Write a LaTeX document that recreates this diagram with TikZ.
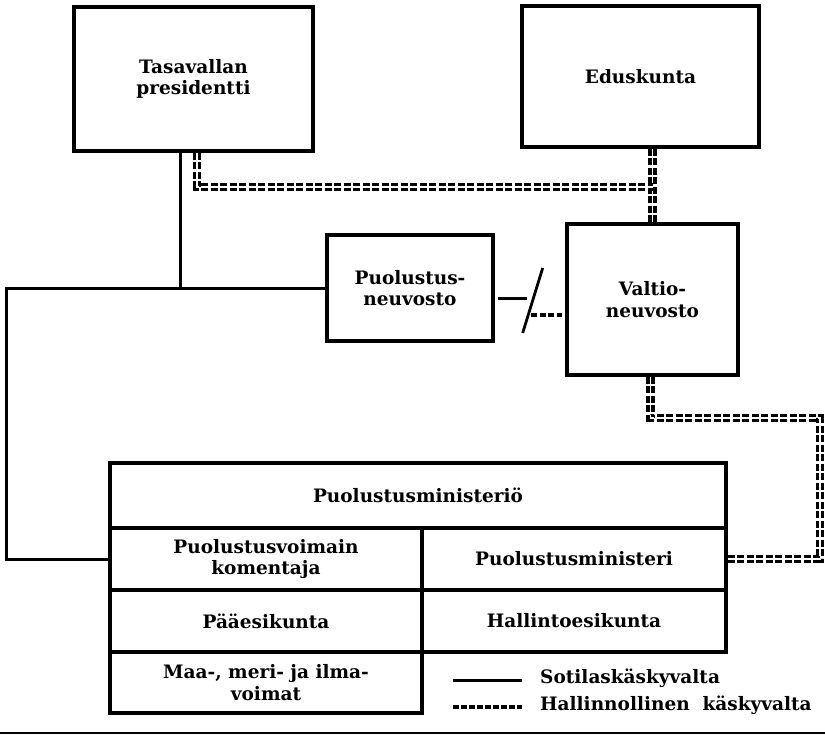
\documentclass[tikz,border=0pt]{standalone}
\usepackage{fontspec}
\setmainfont{DejaVu Serif}
\usetikzlibrary{calc}
\begin{document}
\begin{tikzpicture}[x=1pt,y=-1pt,
  lbl/.style={font=\fontsize{18.5}{21.5}\selectfont\bfseries, align=center},
  box/.style={lbl, draw, line width=3.4pt, inner sep=0pt},
  cell/.style={box, line width=3.2pt},
  mil/.style={line width=3pt},
  adm/.style={double, double distance=1.8pt, line width=3.3pt, dash pattern=on 7pt off 2.5pt},
  admkey/.style={line width=4.2pt, dash pattern=on 5.5pt off 2.5pt},
]
\useasboundingbox (0,0) rectangle (825,736);

% top-level bodies
\node[box, minimum width=239pt, minimum height=144pt] (pres) at (193.5,79) {Tasavallan\\presidentti};
\node[box, minimum width=237pt, minimum height=141pt] (edus) at (640.5,76.5) {Eduskunta};
\node[box, minimum width=166pt, minimum height=106pt] (pn) at (410,288) {Puolustus-\\neuvosto};
\node[box, minimum width=171pt, minimum height=151pt] (vn) at (652.5,299.5) {Valtio-\\neuvosto};

% ministry table
\node[cell, minimum width=616pt, minimum height=65pt] (min) at (418,495.5) {Puolustusministeriö};
\node[cell, minimum width=312pt, minimum height=62pt] (kom) at (266,559) {Puolustusvoimain\\komentaja};
\node[cell, minimum width=304pt, minimum height=62pt] (pmin) at (574,559) {Puolustusministeri};
\node[cell, minimum width=312pt, minimum height=62pt] (pe) at (266,621) {Pääesikunta};
\node[cell, minimum width=304pt, minimum height=62pt] (he) at (574,621) {Hallintoesikunta};
\node[cell, minimum width=312pt, minimum height=61pt] (mmi) at (266,682.5) {Maa-, meri- ja ilma-\\voimat};

% military command
\coordinate (ptap) at ($(pres.south)+(-13.5,0)$);
\coordinate (rail) at (6,0);
\draw[mil] (ptap) -- (ptap |- pn.west);
\draw[mil] (pn.west) -- (rail |- pn.west) -- (rail |- kom.west) -- (kom.west);

% administrative command
\coordinate (pdd) at ($(pres.south)+(3.5,0)$);
\coordinate (tee) at ($(edus.south -| vn.north)+(0,38)$);
\draw[adm] (edus.south -| vn.north) -- (vn.north);
\draw[adm] (pdd) |- (tee);
\coordinate (vdd) at ($(vn.south)+(-2,0)$);
\coordinate (loopc) at (820,418);
\draw[adm] (vdd) |- (loopc) |- (pmin.east);

% defence council / government link
\draw[mil] ($(pn.east)+(3,10)$) -- ($(pn.east)+(32,10)$);
\draw[line width=2.8pt] ($(pn.east)+(28,45)$) -- ($(pn.east)+(48,-20)$);
\draw[line width=3.4pt, dash pattern=on 6pt off 2.5pt] ($(vn.west)+(-34,15.5)$) -- ($(vn.west)+(-3,15.5)$);

% legend
\node[lbl, anchor=west, inner sep=0pt] (k1) at (540,678) {Sotilaskäskyvalta};
\node[lbl, anchor=west, inner sep=0pt] (k2) at (540,705) {Hallinnollinen\ \ käskyvalta};
\draw[mil] ($(k1.west)+(-87,2)$) -- ($(k1.west)+(-18,2)$);
\draw[admkey] ($(k2.west)+(-87,2)$) -- ($(k2.west)+(-18,2)$);

% page rule
\draw[line width=2pt] (0,733) -- (825,733);
\end{tikzpicture}
\end{document}
